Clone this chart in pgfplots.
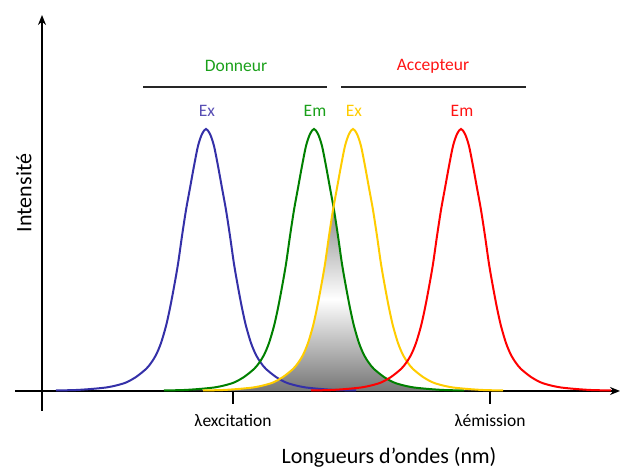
\documentclass[border=0pt]{standalone}
\usepackage{pgfplots}
\pgfplotsset{compat=1.18}
\usepackage{fontspec}
\setmainfont{Carlito}
\usetikzlibrary{arrows.meta}
\definecolor{cblue}{RGB}{52,48,168}
\definecolor{cgreen}{RGB}{0,128,0}
\definecolor{cyellow}{RGB}{255,204,0}
\definecolor{cred}{RGB}{255,0,0}
\definecolor{tblue}{RGB}{88,78,180}
\definecolor{tgreen}{RGB}{26,160,26}
\definecolor{tyellow}{RGB}{255,204,0}
\definecolor{tred}{RGB}{255,20,20}
\definecolor{gtop}{RGB}{140,140,140}
\definecolor{gbot}{RGB}{118,118,118}
\pgfdeclareverticalshading{ovshade}{100bp}{color(0bp)=(gbot); color(25bp)=(gbot); color(50bp)=(white); color(75bp)=(gtop); color(100bp)=(gtop)}
\begin{document}
\begin{tikzpicture}
\begin{axis}[
  scale only axis, width=605pt, height=396pt,
  xmin=-27, xmax=578, ymin=-20, ymax=376,
  axis lines=middle,
  axis line style={line width=1.6pt},
  every inner x axis line/.append style={-{Stealth[length=10pt,width=8pt]}},
  every inner y axis line/.append style={-{Stealth[length=10pt,width=8pt]}},
  xtick={191,448}, xticklabels={λexcitation,λémission},
  ytick=\empty,
  xtick align=outside, major tick length=13pt,
  tick style={line width=1.2pt, black},
  xticklabel style={font=\fontsize{17.5}{20}\selectfont, yshift=-7pt},
  clip=false,
]
\path (axis cs:-42,-77) rectangle (axis cs:581,391);
% overlap area (min of donor emission and acceptor excitation)
\addplot[draw=none, shading=ovshade] coordinates {
(141,0) (161,0.5) (181,1) (196,2) (211,3.5) (221,5.5) (231,8.5) (241,14) (251,22) (256,28) (261,36) (266,48) (271,65) (275,83) (279,104) (283,127) (287,155) (291.5,184) (296,155) (300,127) (304,104) (308,83) (312,65) (317,48) (322,36) (327,28) (332,22) (342,14) (352,8.5) (362,5.5) (372,3.5) (387,2) (402,1) (422,0.5) (442,0)
} \closedcycle;
% donor excitation
\addplot[cblue, line width=2pt, smooth] coordinates {
(14,0.5) (34,1) (49,2) (64,3.5) (74,5.5) (84,8.5) (94,14) (104,22) (109,28) (114,36) (119,48) (124,65) (128,83) (132,104) (136,127) (140,155) (144,181) (148,203) (152,225) (156,245) (160,257) (164,262) (168,257) (172,245) (176,225) (180,203) (184,181) (188,155) (192,127) (196,104) (200,83) (204,65) (209,48) (214,36) (219,28) (224,22) (234,14) (244,8.5) (254,5.5) (264,3.5) (279,2) (294,1) (314,0.5)
};
% donor emission
\addplot[cgreen, line width=2pt, smooth] coordinates {
(122,0.5) (142,1) (157,2) (172,3.5) (182,5.5) (192,8.5) (202,14) (212,22) (217,28) (222,36) (227,48) (232,65) (236,83) (240,104) (244,127) (248,155) (252,181) (256,203) (260,225) (264,245) (268,257) (272,262) (276,257) (280,245) (284,225) (288,203) (292,181) (296,155) (300,127) (304,104) (308,83) (312,65) (317,48) (322,36) (327,28) (332,22) (342,14) (352,8.5) (362,5.5) (372,3.5) (387,2) (402,1) (422,0.5)
};
% acceptor excitation
\addplot[cyellow, line width=2pt, smooth] coordinates {
(161,0.5) (181,1) (196,2) (211,3.5) (221,5.5) (231,8.5) (241,14) (251,22) (256,28) (261,36) (266,48) (271,65) (275,83) (279,104) (283,127) (287,155) (291,181) (295,203) (299,225) (303,245) (307,257) (311,262) (315,257) (319,245) (323,225) (327,203) (331,181) (335,155) (339,127) (343,104) (347,83) (351,65) (356,48) (361,36) (366,28) (371,22) (381,14) (391,8.5) (401,5.5) (411,3.5) (426,2) (441,1) (461,0.5)
};
% acceptor emission
\addplot[cred, line width=2pt, smooth] coordinates {
(269,0.5) (289,1) (304,2) (319,3.5) (329,5.5) (339,8.5) (349,14) (359,22) (364,28) (369,36) (374,48) (379,65) (383,83) (387,104) (391,127) (395,155) (399,181) (403,203) (407,225) (411,245) (415,257) (419,262) (423,257) (427,245) (431,225) (435,203) (439,181) (443,155) (447,127) (451,104) (455,83) (459,65) (464,48) (469,36) (474,28) (479,22) (489,14) (499,8.5) (509,5.5) (519,3.5) (534,2) (549,1) (569,0.5)
};
% labels
\node[font=\fontsize{22}{26}\selectfont] at (axis cs:347,-66) {Longueurs d’ondes (nm)};
\node[rotate=90, font=\fontsize{22}{26}\selectfont] at (axis cs:-18,198) {Intensité};
\node[text=tgreen, font=\fontsize{17.5}{20}\selectfont] at (axis cs:194,325) {Donneur};
\node[text=tred, font=\fontsize{17.5}{20}\selectfont] at (axis cs:391,325) {Accepteur};
\draw[line width=1.3pt, black!85] (axis cs:101,304) -- (axis cs:285,304);
\draw[line width=1.3pt, black!85] (axis cs:299,304) -- (axis cs:484,304);
\node[text=tblue, font=\fontsize{17.5}{20}\selectfont] at (axis cs:165,280) {Ex};
\node[text=tgreen, font=\fontsize{17.5}{20}\selectfont] at (axis cs:273,280) {Em};
\node[text=tyellow, font=\fontsize{17.5}{20}\selectfont] at (axis cs:312,280) {Ex};
\node[text=tred, font=\fontsize{17.5}{20}\selectfont] at (axis cs:420,280) {Em};
\end{axis}
\end{tikzpicture}
\end{document}
